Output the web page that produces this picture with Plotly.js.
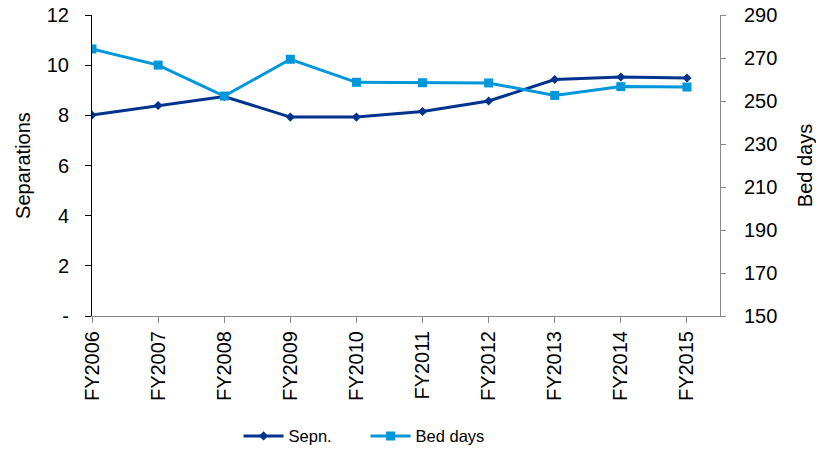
<!DOCTYPE html>
<html>
<head>
<meta charset="utf-8">
<script src="https://cdn.plot.ly/plotly-3.0.1.min.js"></script>
<style>html,body{margin:0;padding:0;background:#fff;}#chart{width:816px;height:452px;}</style>
</head>
<body>
<div id="chart"></div>
<script>
const categories = ['FY2006','FY2007','FY2008','FY2009','FY2010','FY2011','FY2012','FY2013','FY2014','FY2015'];
const sepn = [8.01, 8.39, 8.75, 7.93, 7.93, 8.15, 8.57, 9.43, 9.53, 9.49];
const bedDays = [274.2, 266.7, 252.3, 269.4, 258.7, 258.5, 258.4, 252.6, 256.7, 256.5];
const leftTicks = [0, 2, 4, 6, 8, 10, 12];
const leftTickText = ['-', '2', '4', '6', '8', '10', '12'];
const rightTicks = [150, 170, 190, 210, 230, 250, 270, 290];

const font = 'Liberation Sans, Arial, sans-serif';

const traces = [
  {
    x: categories, y: sepn, name: 'Sepn.', type: 'scatter', mode: 'lines+markers',
    line: {color: '#00338D', width: 3},
    marker: {symbol: 'diamond', size: 7, color: '#00338D'}
  },
  {
    x: categories, y: bedDays, name: 'Bed days', type: 'scatter', mode: 'lines+markers',
    yaxis: 'y2',
    line: {color: '#0096DA', width: 3},
    marker: {symbol: 'square', size: 9, color: '#0096DA'}
  }
];

const layout = {
  width: 816, height: 452,
  margin: {l: 92, r: 96, t: 15, b: 136},
  paper_bgcolor: '#fff', plot_bgcolor: '#fff',
  font: {family: font, size: 20, color: '#000'},
  showlegend: true,
  legend: {orientation: 'h', xref: 'container', yref: 'container', x: 0.448, xanchor: 'center', y: 0.035, yanchor: 'middle', font: {size: 16.5}, itemwidth: 40, entrywidth: 72},
  xaxis: {
    type: 'category', range: [0, 9.5],
    showgrid: false, zeroline: false,
    showline: true, linecolor: '#888', linewidth: 1,
    ticks: 'outside', ticklen: 6, tickcolor: '#888',
    tickangle: -90, tickfont: {size: 20}, automargin: false
  },
  yaxis: {
    range: [0, 12], tickvals: leftTicks, ticktext: leftTickText,
    showgrid: false, zeroline: false,
    showline: true, linecolor: '#000', linewidth: 1,
    ticks: 'outside', ticklen: 6, tickcolor: '#000',
    tickfont: {size: 20}, ticklabelstandoff: 12, automargin: false,
    title: {text: 'Separations', font: {size: 20}, standoff: 10}
  },
  yaxis2: {
    range: [150, 290], tickvals: rightTicks,
    overlaying: 'y', side: 'right',
    showgrid: false, zeroline: false,
    showline: true, linecolor: '#888', linewidth: 1,
    ticks: 'outside', ticklen: 5, tickcolor: '#888',
    tickfont: {size: 20}, ticklabelstandoff: 14, automargin: false,
    title: {text: 'Bed days', font: {size: 20}, standoff: 22}
  }
};

Plotly.newPlot('chart', traces, layout, {displayModeBar: false, staticPlot: true});
</script>
</body>
</html>
